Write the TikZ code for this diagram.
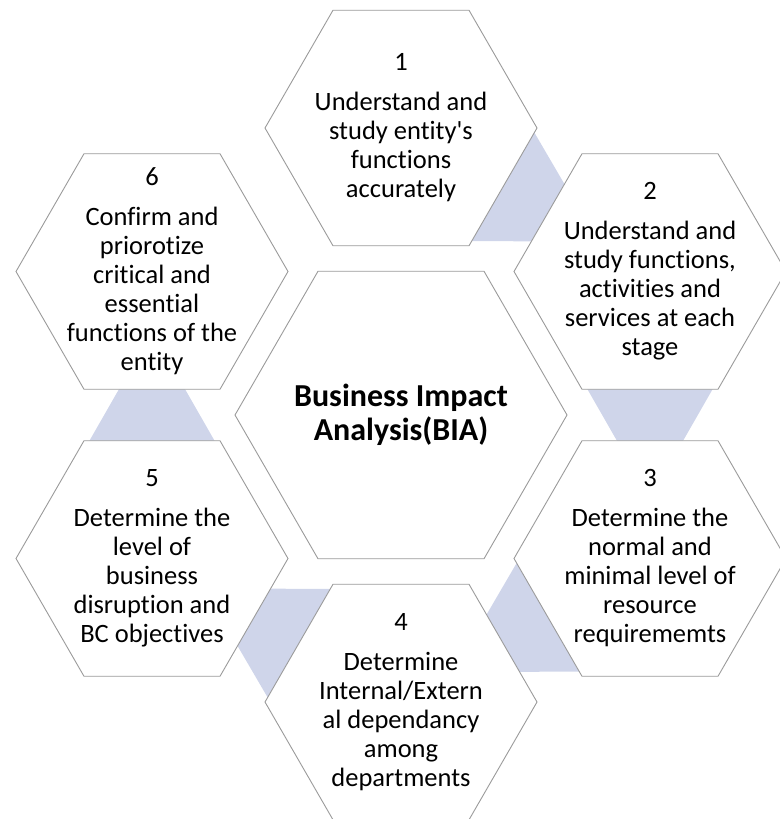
\documentclass[tikz,border=0pt]{standalone}
\usepackage{fontspec}
\setmainfont{Carlito}[Ligatures={NoCommon}]
\usetikzlibrary{calc}
\definecolor{connblue}{RGB}{207,213,234}
\definecolor{hexgray}{RGB}{155,155,155}
\tikzset{
  hexborder/.style={draw=hexgray, line width=0.9pt, fill=white, line join=miter},
  connector/.style={fill=connblue},
  steptext/.style={align=center, font=\fontsize{26.5}{29}\selectfont, inner sep=0pt},
  maintext/.style={align=center, font=\bfseries\fontsize{32}{34}\selectfont, inner sep=0pt},
}
\newcommand{\hexdrawat}[2]{%
  \draw[hexborder] ($(#1)+(#2,0)$) -- ++({-#2/2},{-0.8660254*#2}) -- ++({-#2},0)
    -- ++({-#2/2},{0.8660254*#2}) -- ++({#2/2},{0.8660254*#2}) -- ++({#2},0) -- cycle;
}
\begin{document}
\begin{tikzpicture}[x=1pt,y=-1pt]
\useasboundingbox (0,0) rectangle (779,819);
\coordinate (c)  at (401,415);
\coordinate (h1) at (401,128);
\coordinate (h2) at (650,271.5);
\coordinate (h3) at (650,558.5);
\coordinate (h4) at (401,702);
\coordinate (h5) at (152,558.5);
\coordinate (h6) at (152,271.5);
% connectors (behind)
\foreach \s/\d in {h1/h2,h2/h3,h3/h4,h4/h5,h5/h6}{
  \fill[connector] ($(\d)!60pt!(\s)$) -- ($(\s)!130pt!90:(\d)$) -- ($(\s)!130pt!-90:(\d)$) -- cycle;
}
% hexagons
\hexdrawat{c}{166}
\hexdrawat{h1}{136}
\hexdrawat{h2}{136}
\hexdrawat{h3}{136}
\hexdrawat{h4}{136}
\hexdrawat{h5}{136}
\hexdrawat{h6}{136}
% texts
\node[maintext] (tc) at (c) {Business Impact\\Analysis(BIA)};
\node[steptext] (t1) at (h1) {1\\[11pt]Understand and\\study entity\textquotesingle s\\functions\\accurately};
\node[steptext] (t2) at (h2) {2\\[11pt]Understand and\\study functions,\\activities and\\services at each\\stage};
\node[steptext] (t3) at (h3) {3\\[11pt]Determine the\\normal and\\minimal level of\\resource\\requirememts};
\node[steptext] (t4) at (h4) {4\\[11pt]Determine\\Internal/Extern\\al dependancy\\among\\departments};
\node[steptext] (t5) at (h5) {5\\[11pt]Determine the\\level of\\business\\disruption and\\BC objectives};
\node[steptext] (t6) at (h6) {6\\[11pt]Confirm and\\priorotize\\critical and\\essential\\functions of the\\entity};
\end{tikzpicture}
\end{document}
